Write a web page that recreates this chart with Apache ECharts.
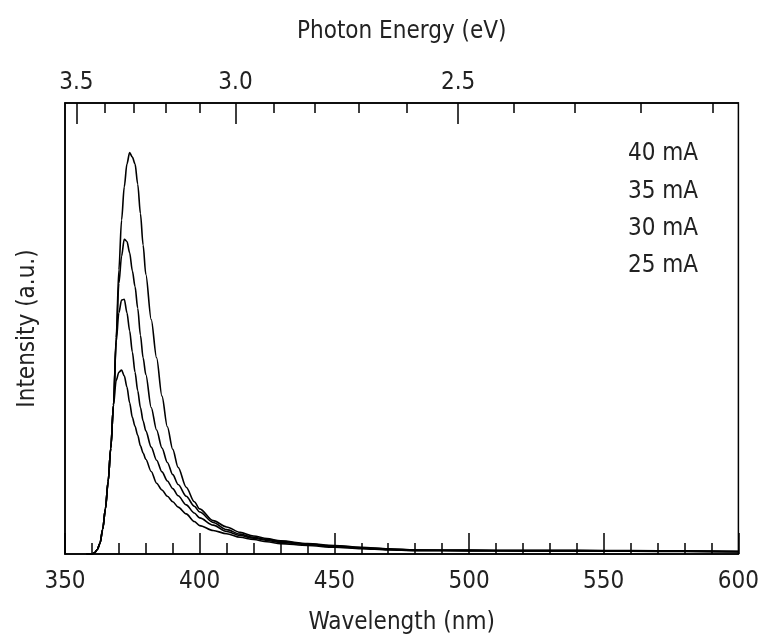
<!DOCTYPE html>
<html>
<head>
<meta charset="utf-8">
<script src="https://cdn.jsdelivr.net/npm/echarts@6/dist/echarts.min.js"></script>
<style>html,body{margin:0;padding:0;background:#fff;}#c{width:762px;height:643px;}</style>
</head>
<body>
<div id="c"></div>
<script>
// Wavelength samples (nm)
const wavelengths = [358,360,361,362,363,364,365,366,367,368,369,370,371,372,373,374,375,376,377,378,379,380,382,384,386,388,390,392,395,398,400,405,410,415,420,425,430,440,450,460,470,480,500,520,540,560,580,600];
// Intensity (a.u.) per drive current
const i25 = [0,0,0.3,1,2.4,5.5,10,16,23.5,33,38.5,40.3,40.8,39.5,37,33.5,30.3,28.3,26.3,24,22.4,21,18.3,15.7,14.2,12.8,11.6,10.4,8.9,7.2,6.3,5.2,4.5,3.7,3.2,2.7,2.3,1.9,1.5,1.2,0.9,0.75,0.7,0.65,0.65,0.6,0.55,0.45];
const i30 = [0,0,0.3,1,2.4,5.5,10,16,23.5,33,47,53.5,56.3,56.5,53.5,49.5,44.8,40.3,36.2,32.5,29.5,27.3,23.7,20.8,18.2,16.2,14.5,12.9,10.9,9.1,8.0,6.4,5.0,4.1,3.5,3.0,2.6,2.1,1.7,1.3,1.0,0.8,0.75,0.7,0.7,0.65,0.6,0.5];
const i35 = [0,0,0.3,1,2.4,5.5,10,16,23.5,33,47.5,60,66,69.8,69.3,66.8,62.8,59.3,54.5,48.5,43.5,39.8,32.5,27.5,23.5,20.3,17.6,15.4,12.8,10.6,9.3,7.0,5.4,4.4,3.7,3.2,2.8,2.2,1.8,1.4,1.1,0.85,0.8,0.75,0.75,0.7,0.65,0.55];
const i40 = [0,0,0.3,1,2.4,5.5,10,16,23.5,33,48,63,74,81.4,86.5,89,88,86.5,82,75.5,68.5,62,52,43.5,35,28.2,23.2,19.2,14.8,11.6,10.0,7.4,6.0,4.8,4.0,3.4,2.9,2.3,1.9,1.5,1.15,0.9,0.85,0.8,0.8,0.75,0.7,0.6];
const seriesNames = ['40 mA','35 mA','30 mA','25 mA'];
// Top axis: photon energy ticks (eV)
const majorEnergies = [3.5, 3.0, 2.5];
const minorEnergies = [3.4,3.3,3.2,3.1,2.9,2.8,2.7,2.6,2.4,2.3,2.2,2.1];
const HC = 1239.84;

const FONT = "'DejaVu Sans Condensed', 'DejaVu Sans', sans-serif";
const FS = 24;
const TXT = '#222';
const pairs = arr => wavelengths.map((w,i)=>[w, arr[i]]);
const dataSets = [i40, i35, i30, i25];

const chart = echarts.init(document.getElementById('c'), null, {renderer:'canvas'});
chart.setOption({
  animation:false,
  backgroundColor:'#fff',
  grid:{left:65, right:22, top:103, bottom:89, show:true, borderColor:'#000', borderWidth:1.5, backgroundColor:'transparent'},
  legend:{
    data:seriesNames, orient:'vertical', left:618, top:137, icon:'none', itemWidth:0, itemHeight:24, itemGap:13.3,
    selectedMode:false,
    textStyle:{fontFamily:FONT, fontSize:FS, color:TXT, lineHeight:24}
  },
  xAxis:[
    {
      type:'value', position:'bottom', min:350, max:600, interval:50,
      name:'Wavelength (nm)', nameLocation:'middle', nameGap:57,
      nameTextStyle:{fontFamily:FONT, fontSize:FS, color:TXT},
      axisLine:{show:true, lineStyle:{color:'#000', width:1.5}},
      axisTick:{show:true, inside:true, length:21, lineStyle:{color:'#000', width:1.5}},
      minorTick:{show:true, splitNumber:5, length:11, lineStyle:{color:'#000', width:1.5}},
      axisLabel:{fontFamily:FONT, fontSize:FS, color:TXT, margin:16},
      splitLine:{show:false}
    },
    {
      type:'value', position:'top', min:350, max:600,
      name:'Photon Energy (eV)', nameLocation:'middle', nameGap:59,
      nameTextStyle:{fontFamily:FONT, fontSize:FS, color:TXT},
      axisLine:{show:true, lineStyle:{color:'#000', width:1.5}},
      axisTick:{show:true, inside:true, length:21, lineStyle:{color:'#000', width:1.5}, customValues: majorEnergies.map(e=>HC/e)},
      axisLabel:{fontFamily:FONT, fontSize:FS, color:TXT, margin:8, customValues: majorEnergies.map(e=>HC/e),
        formatter: v => (HC/v).toFixed(1)},
      splitLine:{show:false}
    },
    {
      type:'value', position:'top', min:350, max:600,
      axisLine:{show:false},
      axisTick:{show:true, inside:true, length:10, lineStyle:{color:'#000', width:1.5}, customValues: minorEnergies.map(e=>HC/e)},
      axisLabel:{show:false, customValues: minorEnergies.map(e=>HC/e)},
      splitLine:{show:false}
    }
  ],
  yAxis:{
    type:'value', min:0, max:100,
    name:'Intensity (a.u.)', nameLocation:'middle', nameGap:25,
    nameTextStyle:{fontFamily:FONT, fontSize:FS, color:TXT},
    axisLine:{show:true, lineStyle:{color:'#000', width:1.5}},
    axisTick:{show:false}, axisLabel:{show:false}, splitLine:{show:false}
  },
  series: seriesNames.map((n,k)=>({
    name:n, type:'line', xAxisIndex:0, data:pairs(dataSets[k]),
    showSymbol:false, smooth:0.3, smoothMonotone:'x',
    lineStyle:{color:'#000', width:1.6}, itemStyle:{color:'#000'}
  }))
});
</script>
</body>
</html>
